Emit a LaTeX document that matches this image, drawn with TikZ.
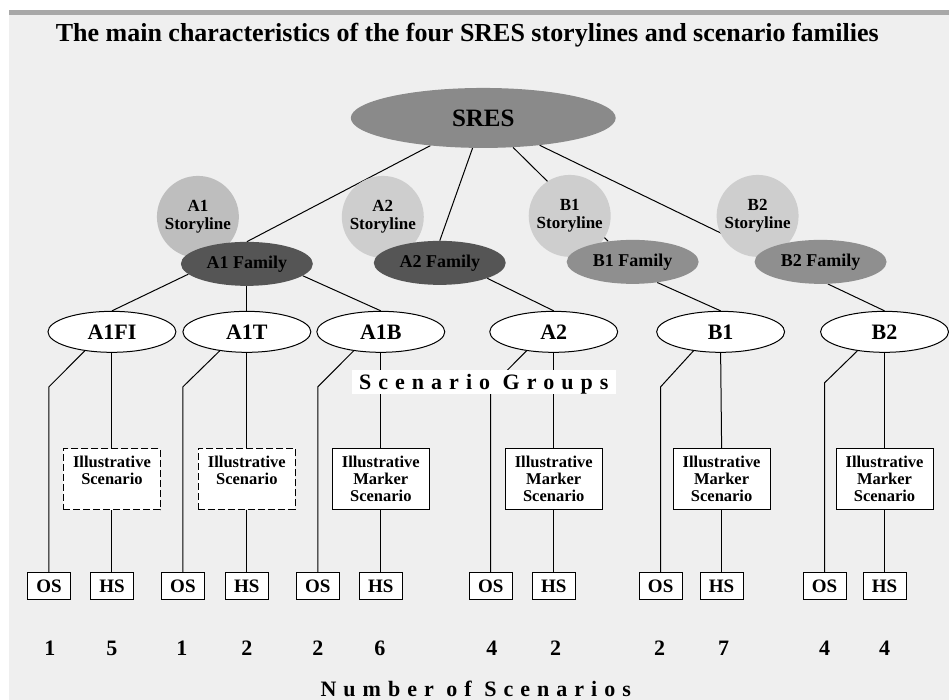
\documentclass[tikz,border=0pt]{standalone}
\usepackage{fontspec}
\setmainfont{Liberation Serif}
\newfontfamily\spacedfont[LetterSpace=32]{Liberation Serif}
\usetikzlibrary{shapes.geometric}
\definecolor{pagebg}{RGB}{239,239,239}
\definecolor{barclr}{RGB}{168,168,168}
\definecolor{sresfill}{RGB}{138,138,138}
\definecolor{storyA}{RGB}{190,190,190}
\definecolor{storyB}{RGB}{206,206,206}
\definecolor{famdark}{RGB}{85,85,85}
\definecolor{famlight}{RGB}{143,143,143}
\pgfdeclarelayer{paper}
\pgfdeclarelayer{wires}
\pgfsetlayers{paper,wires,main}
\tikzset{
  %% top ellipse
  topell/.style={ellipse,fill=sresfill,inner sep=0pt,
    minimum width=265pt,minimum height=60pt,
    font=\fontsize{25}{27}\selectfont\bfseries},
  %% storyline circle
  story/.style={circle,fill=#1,inner sep=0pt,minimum size=82pt,
    align=center,font=\fontsize{17}{18}\selectfont\bfseries},
  %% family ellipse
  fam/.style={ellipse,fill=#1,inner sep=0pt,
    minimum width=132pt,minimum height=44pt,
    font=\fontsize{18}{20}\selectfont\bfseries},
  %% scenario group ellipse
  grp/.style={ellipse,draw,line width=1pt,fill=white,inner sep=0pt,
    minimum width=128pt,minimum height=41pt,
    font=\fontsize{22}{24}\selectfont\bfseries},
  %% illustrative scenario boxes
  ilbox/.style={rectangle,draw,line width=1pt,fill=white,inner sep=0pt,
    minimum width=97pt,minimum height=61pt,align=center,
    font=\fontsize{16.5}{17}\selectfont\bfseries},
  ildash/.style={ilbox,dash pattern=on 7pt off 3pt},
  %% OS / HS boxes
  cntbox/.style={rectangle,draw,line width=1pt,fill=white,inner sep=0pt,
    minimum width=43pt,minimum height=27pt,
    font=\fontsize{19}{21}\selectfont\bfseries},
  num/.style={font=\fontsize{22}{24}\selectfont\bfseries},
  spaced/.style={font=\fontsize{22}{24}\spacedfont\bfseries},
  %% connectors
  ln/.style={line width=1pt,color=black},
}

\begin{document}
\begin{tikzpicture}[x=1pt,y=-1pt]

  %% page
  \begin{pgfonlayer}{paper}
    \fill[white] (0,0) rectangle (949,700);
    \fill[pagebg] (9,15) rectangle (949,700);
    \fill[barclr] (9,10) rectangle (949,15);
  \end{pgfonlayer}

  \node[anchor=base,font=\fontsize{26}{28}\selectfont\bfseries] (title) at (467.5,42)
    {The main characteristics of the four SRES storylines and scenario families};

  \node[topell] (sres) at (483.5,118) {SRES};

  %% storylines
  \node[story=storyA] (a1st) at (198,217) {A1\\Storyline};
  \node[story=storyB] (a2st) at (383,217) {A2\\Storyline};
  \node[story=storyB] (b1st) at (570,216) {B1\\Storyline};
  \node[story=storyB] (b2st) at (758,216) {B2\\Storyline};

  %% families
  \node[fam=famdark]  (a1fam) at (247,264) {A1 Family};
  \node[fam=famdark]  (a2fam) at (440,263) {A2 Family};
  \node[fam=famlight] (b1fam) at (633,262) {B1 Family};
  \node[fam=famlight] (b2fam) at (821,262) {B2 Family};

  %% scenario groups
  \node[grp] (a1fi) at (112,332) {A1FI};
  \node[grp] (a1t)  at (247,332) {A1T};
  \node[grp] (a1b)  at (381,332) {A1B};
  \node[grp] (a2)   at (554,332) {A2};
  \node[grp] (b1)   at (721,332) {B1};
  \node[grp] (b2)   at (885,332) {B2};

  \node[spaced,fill=white,inner sep=0pt,text depth=0pt,
    minimum width=264pt,minimum height=24pt] (sgrp) at (484,382) {Scenario Groups};

  %% illustrative scenarios
  \node[ildash] (il1) at (112,479.5) {Illustrative\\Scenario\\\phantom{S}};
  \node[ildash] (il2) at (247,479) {Illustrative\\Scenario\\\phantom{S}};
  \node[ilbox]  (il3) at (381,479.5) {Illustrative\\Marker\\Scenario};
  \node[ilbox]  (il4) at (554,479.5) {Illustrative\\Marker\\Scenario};
  \node[ilbox]  (il5) at (722,479.5) {Illustrative\\Marker\\Scenario};
  \node[ilbox]  (il6) at (885,479.5) {Illustrative\\Marker\\Scenario};

  %% OS / HS counts
  \node[cntbox] (os1) at (49,586.5)  {OS};
  \node[cntbox] (hs1) at (112,586.5) {HS};
  \node[cntbox] (os2) at (183,586.5) {OS};
  \node[cntbox] (hs2) at (247,586.5) {HS};
  \node[cntbox] (os3) at (318,586.5) {OS};
  \node[cntbox] (hs3) at (381,586.5) {HS};
  \node[cntbox] (os4) at (491,586.5) {OS};
  \node[cntbox] (hs4) at (554,586.5) {HS};
  \node[cntbox] (os5) at (661,586.5) {OS};
  \node[cntbox] (hs5) at (722,586.5) {HS};
  \node[cntbox] (os6) at (825,586.5) {OS};
  \node[cntbox] (hs6) at (885,586.5) {HS};

  \node[num] (n1)  at (50,649)  {1};
  \node[num] (n2)  at (112,649) {5};
  \node[num] (n3)  at (182,649) {1};
  \node[num] (n4)  at (247,649) {2};
  \node[num] (n5)  at (318,649) {2};
  \node[num] (n6)  at (380,649) {6};
  \node[num] (n7)  at (492,649) {4};
  \node[num] (n8)  at (556,649) {2};
  \node[num] (n9)  at (660,649) {2};
  \node[num] (n10) at (724,649) {7};
  \node[num] (n11) at (825,649) {4};
  \node[num] (n12) at (885,649) {4};

  \node[spaced] (nscen) at (476,689) {Number of Scenarios};

  %% ── connectors ──────────────────────────────────────────
  \begin{pgfonlayer}{wires}
    %% SRES to families
    \draw[ln] (sres) -- (a1fam.north);
    \draw[ln] (sres) -- (a2fam.north);
    \draw[ln] (sres) -- (b1fam.140);
    \draw[ln] (sres) -- (b2fam.171);

    %% families to groups
    \draw[ln] (a1fam.190) -- (a1fi.north);
    \draw[ln] (a1fam.south) -- (a1t.north);
    \draw[ln] (a1fam.-12) -- (a1b.north);
    \draw[ln] (a2fam.-18) -- (a2.north);
    \draw[ln] (b1fam.-40) -- (b1.north);
    \draw[ln] (b2fam.-72) -- (b2.north);

    %% groups to OS
    \draw[ln] (a1fi.215) -- (os1.north |- 0,387) -- (os1.north);
    \draw[ln] (a1t.215)  -- (os2.north |- 0,387) -- (os2.north);
    \draw[ln] (a1b.215)  -- (os3.north |- 0,387) -- (os3.north);
    \draw[ln] (a2.215)   -- (os4.north |- 0,387) -- (os4.north);
    \draw[ln] (b1.215)   -- (os5.north |- 0,387) -- (os5.north);
    \draw[ln] (b2.215)   -- (os6.north |- 0,383) -- (os6.north);

    %% groups to HS via illustrative scenario
    \draw[ln] (a1fi.south) -- (il1.north);
    \draw[ln] (il1.south) -- (hs1.north);
    \draw[ln] (a1t.south) -- (il2.north);
    \draw[ln] (il2.south) -- (hs2.north);
    \draw[ln] (a1b.south) -- (il3.north);
    \draw[ln] (il3.south) -- (hs3.north);
    \draw[ln] (a2.south) -- (il4.north);
    \draw[ln] (il4.south) -- (hs4.north);
    \draw[ln] (b1.south) -- (il5.north);
    \draw[ln] (il5.south) -- (hs5.north);
    \draw[ln] (b2.south) -- (il6.north);
    \draw[ln] (il6.south) -- (hs6.north);
  \end{pgfonlayer}

\end{tikzpicture}
\end{document}
